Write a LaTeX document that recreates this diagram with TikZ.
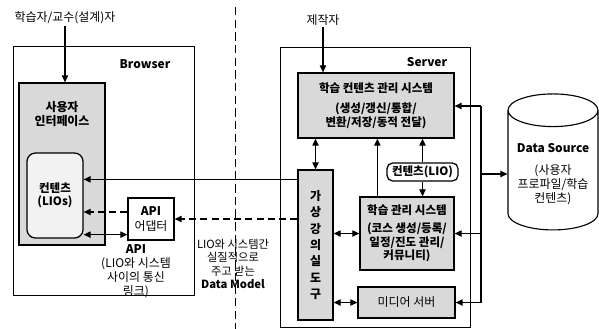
\documentclass[tikz,border=0pt]{standalone}
\usepackage{fontspec}
\setmainfont{Noto Sans CJK KR}
\usetikzlibrary{arrows.meta,shapes.geometric,positioning,calc}

\begin{document}
\begin{tikzpicture}[
    frame/.style={draw, line width=0.7pt, inner sep=0pt},
    sbox/.style={draw, line width=0.9pt, fill=black!15, inner sep=0pt, align=center, font=\fontsize{8.2}{9.6}\selectfont\bfseries},
    wbox/.style={sbox, fill=white},
    lbl/.style={align=center, inner sep=1pt, font=\fontsize{8.5}{10}\selectfont},
    blbl/.style={lbl, font=\fontsize{8.5}{10}\selectfont\bfseries},
    arr/.style={-{Triangle[length=5pt,width=4.5pt]}, line width=0.8pt},
    darr/.style={arr, dash pattern=on 5pt off 3pt},
    biarr/.style={{Triangle[length=5pt,width=4.5pt]}-{Triangle[length=5pt,width=4.5pt]}, line width=0.8pt}
]
\useasboundingbox (0,0) rectangle (14.975,-8.225);

\node[frame, minimum width=4.525cm, minimum height=6.225cm] (browser) at (2.588,-4.263) {};
\node[frame, minimum width=4.75cm, minimum height=7cm] (server) at (9.375,-4.675) {};
\draw[line width=0.7pt, dash pattern=on 6pt off 3pt] (5.875,-0.175) -- (5.875,-8.225);

\node[lbl] (learner) at (1.625,-0.45) {학습자/교수(설계)자};
\node[blbl] (brlbl) at (3.625,-1.6) {Browser};
\node[lbl] (maker) at (8.075,-0.5) {제작자};
\node[blbl] (svlbl) at (10.675,-1.55) {Server};

\node[sbox, minimum width=2.15cm, minimum height=4.05cm] (ui) at (1.55,-4.1) {};
\node[blbl] (uilbl) at (1.55,-2.85) {사용자\\인터페이스};
\node[sbox, rounded corners=6pt, fill=black!5, minimum width=1.4cm, minimum height=2.125cm] (lios) at (1.375,-4.888) {컨텐츠\\(LIOs)};
\node[wbox, font=\fontsize{8.5}{10}\selectfont, minimum width=1.15cm, minimum height=1.05cm] (adapter) at (3.775,-5.475) {{\bfseries API}\\어댑터};
\node[lbl] (apilbl) at (3.4,-6.78) {{\bfseries API}\\(LIO와 시스템\\사이의 통신\\링크)};
\node[lbl, font=\fontsize{8}{9.5}\selectfont] (dmlbl) at (5.825,-6.6) {LIO와 시스템간\\실질적으로\\주고 받는\\{\bfseries Data Model}};

\node[sbox, minimum width=3.9cm, minimum height=1.625cm] (lcms) at (9.4,-2.638) {학습 컨텐츠 관리 시스템\\[5pt](생성/갱신/통합/\\변환/저장/동적 전달)};
\node[sbox, minimum width=0.875cm, minimum height=3.75cm, font=\fontsize{8.5}{11.6}\selectfont\bfseries] (vclass) at (7.888,-6.125) {가\\상\\강\\의\\실\\도\\구};
\node[wbox, rounded corners=4pt, minimum width=1.775cm, minimum height=0.45cm] (lio) at (10.563,-4.3) {컨텐츠(LIO)};
\node[sbox, minimum width=2.35cm, minimum height=1.825cm] (lms) at (10.175,-5.838) {학습 관리 시스템\\[3pt](코스 생성/등록/\\일정/진도 관리/\\커뮤니티)};
\node[sbox, font=\fontsize{8.5}{10}\selectfont, minimum width=2.425cm, minimum height=0.775cm] (media) at (10.163,-7.563) {미디어 서버};
\node[draw, line width=0.8pt, cylinder, shape border rotate=90, aspect=0.4, minimum width=2.25cm, minimum height=3.4cm, align=center, font=\fontsize{8.5}{10}\selectfont] (ds) at (13.825,-4.35) {{\bfseries Data Source}\\[6pt](사용자\\프로파일/학습\\컨텐츠)};

\draw[arr] (learner) -- (learner |- ui.north);
\draw[arr] (maker) -- (maker |- lcms.north);
\draw[arr] ([yshift=-2.5mm]vclass.north west) coordinate (v1) -- (v1 -| lios.east);
\draw[darr] (vclass.west |- adapter.east) -- (adapter.east);
\draw[darr] ([yshift=1.75mm]adapter.west) coordinate (a1) -- (a1 -| lios.east);
\draw[biarr] ([yshift=1.5mm]adapter.south west) coordinate (a2) -- (a2 -| lios.east);
\draw[biarr] (vclass.north) -- (vclass.north |- lcms.south);
\draw[arr] ([xshift=4.5mm]lms.north west) coordinate (l1) -- (l1 |- lcms.south);
\draw[arr] (lio.north) -- (lio.north |- lcms.south);
\draw[arr] (lio.south) -- (lio.south |- lms.north);
\draw[biarr] (vclass.east |- lms.west) -- (lms.west);
\draw[biarr] (vclass.east |- media.west) -- (media.west);

\coordinate (bustop) at (12.025,-2.65);
\coordinate (busbot) at (bustop |- media.east);
\draw[line width=0.8pt] (bustop) -- (busbot);
\draw[arr] (bustop) -- (bustop -| lcms.east);
\draw[arr] (bustop |- lms.east) -- (lms.east);
\draw[arr] (busbot) -- (media.east);
\draw[arr] (bustop |- ds.180) -- (ds.180);
\end{tikzpicture}
\end{document}
